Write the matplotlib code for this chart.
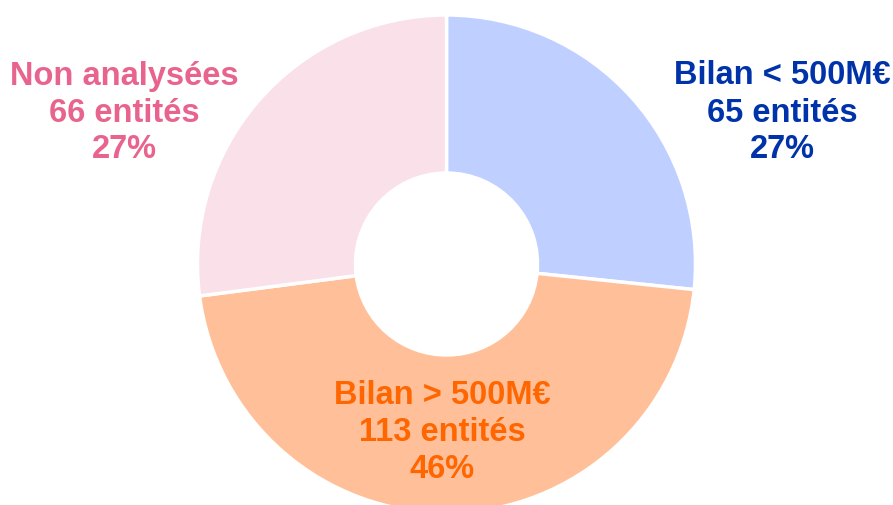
import matplotlib
matplotlib.use("Agg")
import matplotlib.pyplot as plt

categories = ["Bilan < 500M€", "Bilan > 500M€", "Non analysées"]
counts = [65, 113, 66]
slice_colors = ["#BFCFFF", "#FFBF99", "#F9E0E9"]
text_colors = ["#0033AA", "#FF6600", "#E8648E"]
label_pos = [(782, 113), (442, 433), (124, 113)]  # pixel coords from top-left

plt.rcParams['font.family'] = ['Liberation Sans', 'DejaVu Sans']

W, H = 893, 506
fig = plt.figure(figsize=(W / 100, H / 100), dpi=100)
ax = fig.add_axes([0, 0, 1, 1])

R = 249
ax.pie(counts, colors=slice_colors, startangle=90, counterclock=False,
       center=(446.5, H - 265), radius=R,
       wedgeprops=dict(width=R - 91, edgecolor='white', linewidth=2.5))
ax.set_aspect('auto')
ax.set_xlim(0, W)
ax.set_ylim(0, H)
ax.axis('off')

total = sum(counts)
for cat, n, col, (x, y) in zip(categories, counts, text_colors, label_pos):
    txt = f"{cat}\n{n} entités\n{round(100 * n / total)}%"
    fig.text(x / W, 1 - y / H, txt, ha='center', va='center', color=col,
             fontsize=23.5, fontweight='bold', linespacing=1.25)

fig.savefig("out.png", dpi=100)
